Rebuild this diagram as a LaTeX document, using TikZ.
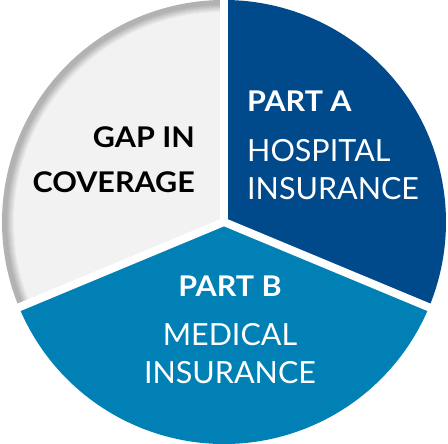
\documentclass[tikz,border=0pt]{standalone}
\usepackage{fontspec}
\setmainfont{Lato}[BoldFeatures={FakeStretch=1.07}]
\usepackage{tikz}
\definecolor{partablue}{HTML}{004A8C}
\definecolor{partbblue}{HTML}{0080B5}

\begin{document}
\begin{tikzpicture}[x=1pt,y=1pt,
  hd/.style={font=\fontsize{28.5}{30}\selectfont\bfseries, inner sep=0pt},
  bd/.style={font=\fontsize{30.5}{32}\selectfont, inner sep=0pt},
  onblue/.style={text=white},
  sep/.style={white, line width=8pt, line cap=round}
]
\useasboundingbox (0,0) rectangle (448,444);
\def\R{222}
\coordinate (c) at (224,222);
\fill[partablue] (c) -- ++(-22.6:\R) arc (-22.6:90:\R) -- cycle;
\fill[partbblue] (c) -- ++(202.6:\R) arc (202.6:337.4:\R) -- cycle;
\begin{scope}
  \clip (c) -- ++(90:\R) arc (90:202.6:\R) -- cycle;
  \foreach \k in {0,...,12} {
    \pgfmathsetmacro\pct{\k<5 ? 30 : 30-(\k-4)*25/8}
    \fill[black!\pct] (c) circle [radius=\R-\k];
  }
\end{scope}
\path (c) ++(90:240) coordinate (top)
      (c) ++(-22.6:240) coordinate (right)
      (c) ++(202.6:240) coordinate (left);
\foreach \e in {top, right, left}
  \draw[sep] (c) -- (\e);
\node[hd, onblue, anchor=base west] (parta) at (247,332) {PART A};
\node[bd, onblue, anchor=base west] (hosp) at (247,282) {HOSPITAL};
\node[bd, onblue, anchor=base west] (hins) at (247,244) {INSURANCE};
\node[hd, anchor=base east] (gapin) at (195,296) {GAP IN};
\node[hd, anchor=base east] (cov) at (195,251) {COVERAGE};
\node[hd, onblue, anchor=base] (partb) at (230,147) {PART B};
\node[bd, onblue, anchor=base] (med) at (230,98) {MEDICAL};
\node[bd, onblue, anchor=base] (mins) at (230,60) {INSURANCE};
\end{tikzpicture}
\end{document}
